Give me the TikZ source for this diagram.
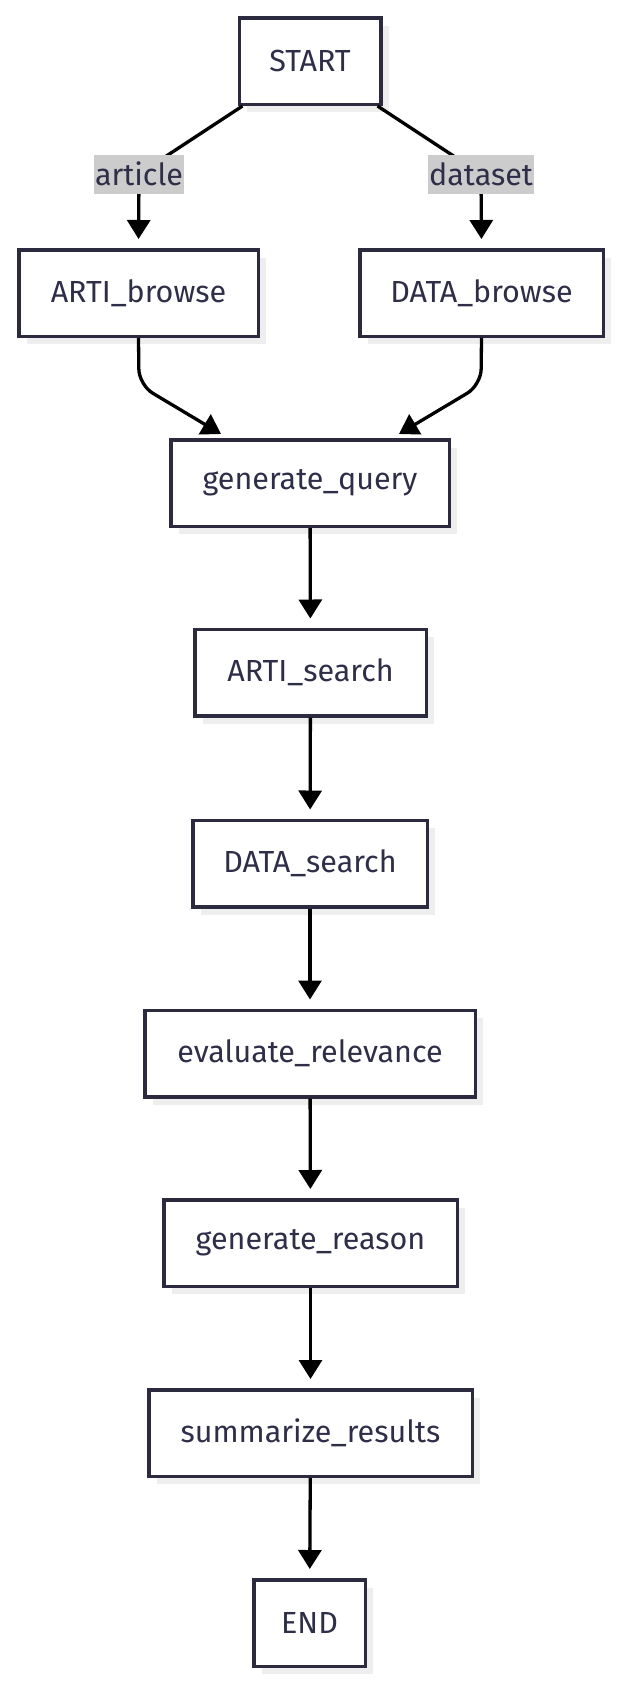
\documentclass[tikz,border=0pt]{standalone}
\usepackage{fontspec}
\setmainfont{Fira Sans}
\usetikzlibrary{arrows.meta,shadows}
\definecolor{boxline}{HTML}{2B2A3F}
\definecolor{txt}{HTML}{2F2E48}
\definecolor{shadowc}{HTML}{EEEEEE}
\definecolor{lblbg}{HTML}{CCCCCC}
\begin{document}
\begin{tikzpicture}[x=1pt,y=-1pt,
  box/.style={draw=boxline, line width=3.5pt, fill=white, minimum height=86.5pt,
    text=txt, font=\fontsize{30.5}{34}\selectfont, inner sep=0pt,
    drop shadow={shadow xshift=8pt, shadow yshift=-8pt, fill=shadowc, opacity=1}},
  lbl/.style={fill=lblbg, text=txt, font=\fontsize{30.5}{34}\selectfont,
    minimum height=39pt, inner xsep=1pt, inner ysep=0pt},
  edge/.style={draw=black, line width=3.3pt, -{Triangle[length=19pt,width=23pt]}},
  vedge/.style={edge, shorten >=9pt},
]
\useasboundingbox (0,0) rectangle (622,1684);
\node[box, minimum width=141.5pt] (start) at (310,61) {START};
\node[box, minimum width=239.5pt] (artib) at (138.5,293) {ARTI\_browse};
\node[box, minimum width=243.5pt] (datab) at (481.5,293) {DATA\_browse};
\node[box, minimum width=278.5pt] (gq) at (310,483) {generate\_query};
\node[box, minimum width=231.5pt] (as) at (310.5,672.5) {ARTI\_search};
\node[box, minimum width=234.5pt] (ds) at (310,863.5) {DATA\_search};
\node[box, minimum width=330.5pt] (er) at (310,1053.5) {evaluate\_relevance};
\node[box, minimum width=293.5pt] (gr) at (310.5,1243) {generate\_reason};
\node[box, minimum width=323.5pt] (sr) at (310.5,1433) {summarize\_results};
\node[box, minimum width=111.5pt] (end) at (309.5,1623) {END};

\coordinate (c1) at (139,174);
\coordinate (c2) at (481,174);
\coordinate (c3) at (139,385);
\coordinate (c4) at (481,385);
\coordinate (t3) at (221,434);
\coordinate (t4) at (399,434);

\draw[vedge] ([xshift=5pt]start.south west) -- (c1) -- (artib.north);
\draw[vedge] ([xshift=-5pt]start.south east) -- (c2) -- (datab.north);
\node[lbl] (l1) at (c1) {article};
\node[lbl] (l2) at (c2) {dataset};

\draw[edge, rounded corners=16pt] (artib.south) -- (c3) -- (t3);
\draw[edge, rounded corners=16pt] (datab.south) -- (c4) -- (t4);

\draw[vedge] (gq) -- (as);
\draw[vedge] (as) -- (ds);
\draw[vedge] (ds) -- (er);
\draw[vedge] (er) -- (gr);
\draw[vedge] (gr) -- (sr);
\draw[vedge] (sr) -- (end);
\end{tikzpicture}
\end{document}
